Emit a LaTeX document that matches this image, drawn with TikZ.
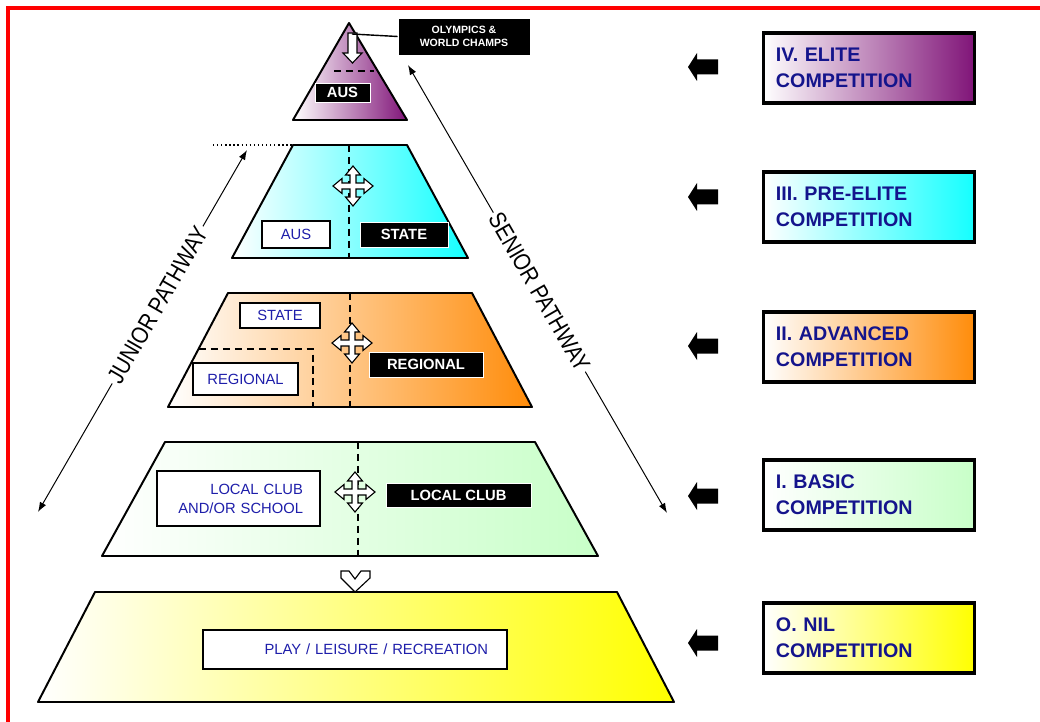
\documentclass[tikz,border=0pt]{standalone}
\usepackage{fontspec}
\setmainfont{Liberation Sans}
\usetikzlibrary{arrows.meta}

\definecolor{elitecol}{RGB}{128,20,120}
\definecolor{preelitecol}{RGB}{20,255,255}
\definecolor{advancedcol}{RGB}{255,140,10}
\definecolor{basiccol}{RGB}{200,255,200}
\definecolor{nilcol}{RGB}{255,255,0}
\definecolor{labelblue}{RGB}{30,30,170}
\definecolor{levelnavy}{RGB}{20,20,140}
\definecolor{framered}{RGB}{255,0,0}

\tikzset{
  layer/.style={draw=black, line width=1.4pt, line join=round, left color=white},
  divider/.style={draw=black, line width=0.9pt, dash pattern=on 5pt off 3.5pt},
  lightlabel/.style={draw=black, line width=0.9pt, fill=white, text=labelblue,
    inner sep=0pt, font=\fontsize{10.5}{13.5}\selectfont},
  darklabel/.style={draw=white, line width=0.6pt, fill=black, text=white,
    inner sep=0pt, font=\fontsize{10.5}{12}\selectfont\bfseries},
  levelbox/.style={draw=black, line width=2.2pt, left color=white,
    minimum height=1.75cm, text width=4.65cm, inner xsep=9pt, align=left,
    text=levelnavy, font=\fontsize{14}{18.4}\selectfont\bfseries},
  pathline/.style={{Latex[length=7pt,width=5pt]}-{Latex[length=7pt,width=5pt]}, line width=0.7pt},
  pathway/.style={fill=white, inner sep=2pt, font=\fontsize{17}{17}\selectfont},
  movecross/.pic={
    \draw[fill=white, line width=0.8pt, line join=miter]
      (3,3) -- (11,3) -- (11,7.5) -- (20,0) -- (11,-7.5) -- (11,-3) -- (3,-3)
      -- (3,-11) -- (7.5,-11) -- (0,-20) -- (-7.5,-11) -- (-3,-11) -- (-3,-3)
      -- (-11,-3) -- (-11,-7.5) -- (-20,0) -- (-11,7.5) -- (-11,3) -- (-3,3)
      -- (-3,11) -- (-7.5,11) -- (0,20) -- (7.5,11) -- (3,11) -- cycle;
  }
}

\begin{document}
\begin{tikzpicture}[x=0.025cm, y=-0.025cm]
  \useasboundingbox[fill=white] (0,0) rectangle (1040,722);
  \draw[framered, line width=2.9pt] (8,722) -- (8,8) -- (1040,8);

  % pyramid layers
  \draw[layer, right color=elitecol] (349,23) -- (407,120) -- (293,120) -- cycle;
  \draw[layer, right color=preelitecol] (293,145) coordinate (ptl) -- (407,145) -- (468,258) -- (232,258) -- cycle;
  \draw[layer, right color=advancedcol] (228,293) -- (472,293) -- (532,407) -- (168,407) -- cycle;
  \draw[layer, right color=basiccol] (165,442) -- (535,442) -- (598,556) -- (102,556) -- cycle;
  \draw[layer, right color=nilcol] (95,592) -- (617,592) -- (674,702) -- (38,702) -- cycle;

  % dividers
  \draw[divider] (334,71) -- (374,71);
  \draw[divider] (349,145) -- (349,258);
  \draw[divider] (350,293) -- (350,407);
  \draw[divider] (199,349) -- (313,349) -- (313,407);
  \draw[divider] (358,442) -- (358,556);
  \draw[dotted, line width=0.9pt] (213,145) -- (ptl);

  \pic at (353,186) {movecross};
  \pic at (352,343) {movecross};
  \pic at (355,492) {movecross};

  % arrow inside the top
  \draw[fill=white, line width=0.8pt] (348,33) -- (357,33) -- (357,53) -- (362,53)
    -- (352.5,63) -- (343,53) -- (348,53) -- cycle;
  % chevron between basic and nil
  \draw[fill=white, line width=0.8pt] (341,571) -- (349,571) -- (355,579) -- (361,571)
    -- (370,571) -- (370,578) -- (355,592) -- (341,578) -- cycle;

  % labels
  \node[darklabel, minimum width=1.375cm, minimum height=0.475cm] (eliteaus) at (342.5,92.5) {AUS};
  \node[darklabel, minimum width=3.3cm, minimum height=0.925cm, align=center,
    font=\fontsize{7.5}{9}\selectfont\bfseries] (olymp) at (464,36.5) {OLYMPICS \&\\WORLD CHAMPS};
  \coordinate (aptop) at (352,34);
  \draw[line width=1pt] (aptop) -- (olymp.west);

  \node[lightlabel, minimum width=1.7cm, minimum height=0.675cm] (preaus) at (296,234.5) {AUS};
  \node[darklabel, minimum width=2.2cm, minimum height=0.625cm] (prestate) at (404,234.5) {STATE};

  \node[lightlabel, minimum width=2cm, minimum height=0.625cm] (advstate) at (280,315.5) {STATE};
  \node[lightlabel, minimum width=2.625cm, minimum height=0.8cm] (advregion) at (245.5,379) {REGIONAL};
  \node[darklabel, minimum width=2.85cm, minimum height=0.625cm] (advregdark) at (426,364.5) {REGIONAL};

  \node[lightlabel, minimum height=1.375cm, text width=3.225cm, inner xsep=0.425cm,
    align=right] (basicschool) at (238.5,498.5) {LOCAL CLUB\\AND/OR SCHOOL};
  \node[darklabel, minimum width=3.625cm, minimum height=0.6cm] (basicclub) at (458.5,495) {LOCAL CLUB};

  \node[lightlabel, minimum height=0.975cm, text width=6.65cm, inner xsep=0.475cm,
    align=right] (nilplay) at (355,649.5) {PLAY / LEISURE / RECREATION};

  % competition levels
  \node[levelbox, right color=elitecol] (lvlIV) at (869,68) {IV. ELITE\\COMPETITION};
  \node[levelbox, right color=preelitecol] (lvlIII) at (869,207) {III. PRE-ELITE\\COMPETITION};
  \node[levelbox, right color=advancedcol] (lvlII) at (869,347) {II. ADVANCED\\COMPETITION};
  \node[levelbox, right color=basiccol] (lvlI) at (869,495) {I. BASIC\\COMPETITION};
  \node[levelbox, right color=nilcol] (lvlO) at (869,638) {O. NIL\\COMPETITION};

  \foreach \yy in {67,197,346,496,643}
    \fill (688,\yy) -- (697,{\yy-14}) -- (697,{\yy-7.5}) -- (718,{\yy-7.5})
      -- (718,{\yy+7.5}) -- (697,{\yy+7.5}) -- (697,{\yy+14}) -- cycle;

  % pathways
  \coordinate (jbot) at (38,512);
  \coordinate (jtop) at (247,150);
  \coordinate (stop) at (408,65);
  \coordinate (sbot) at (667,513);
  \draw[pathline] (jbot) -- node[pathway, pos=0.572, rotate=60, xscale=0.85] (juniorlbl) {JUNIOR PATHWAY} (jtop);
  \draw[pathline] (stop) -- node[pathway, pos=0.507, rotate=-60, xscale=0.85] (seniorlbl) {SENIOR PATHWAY} (sbot);
\end{tikzpicture}
\end{document}
